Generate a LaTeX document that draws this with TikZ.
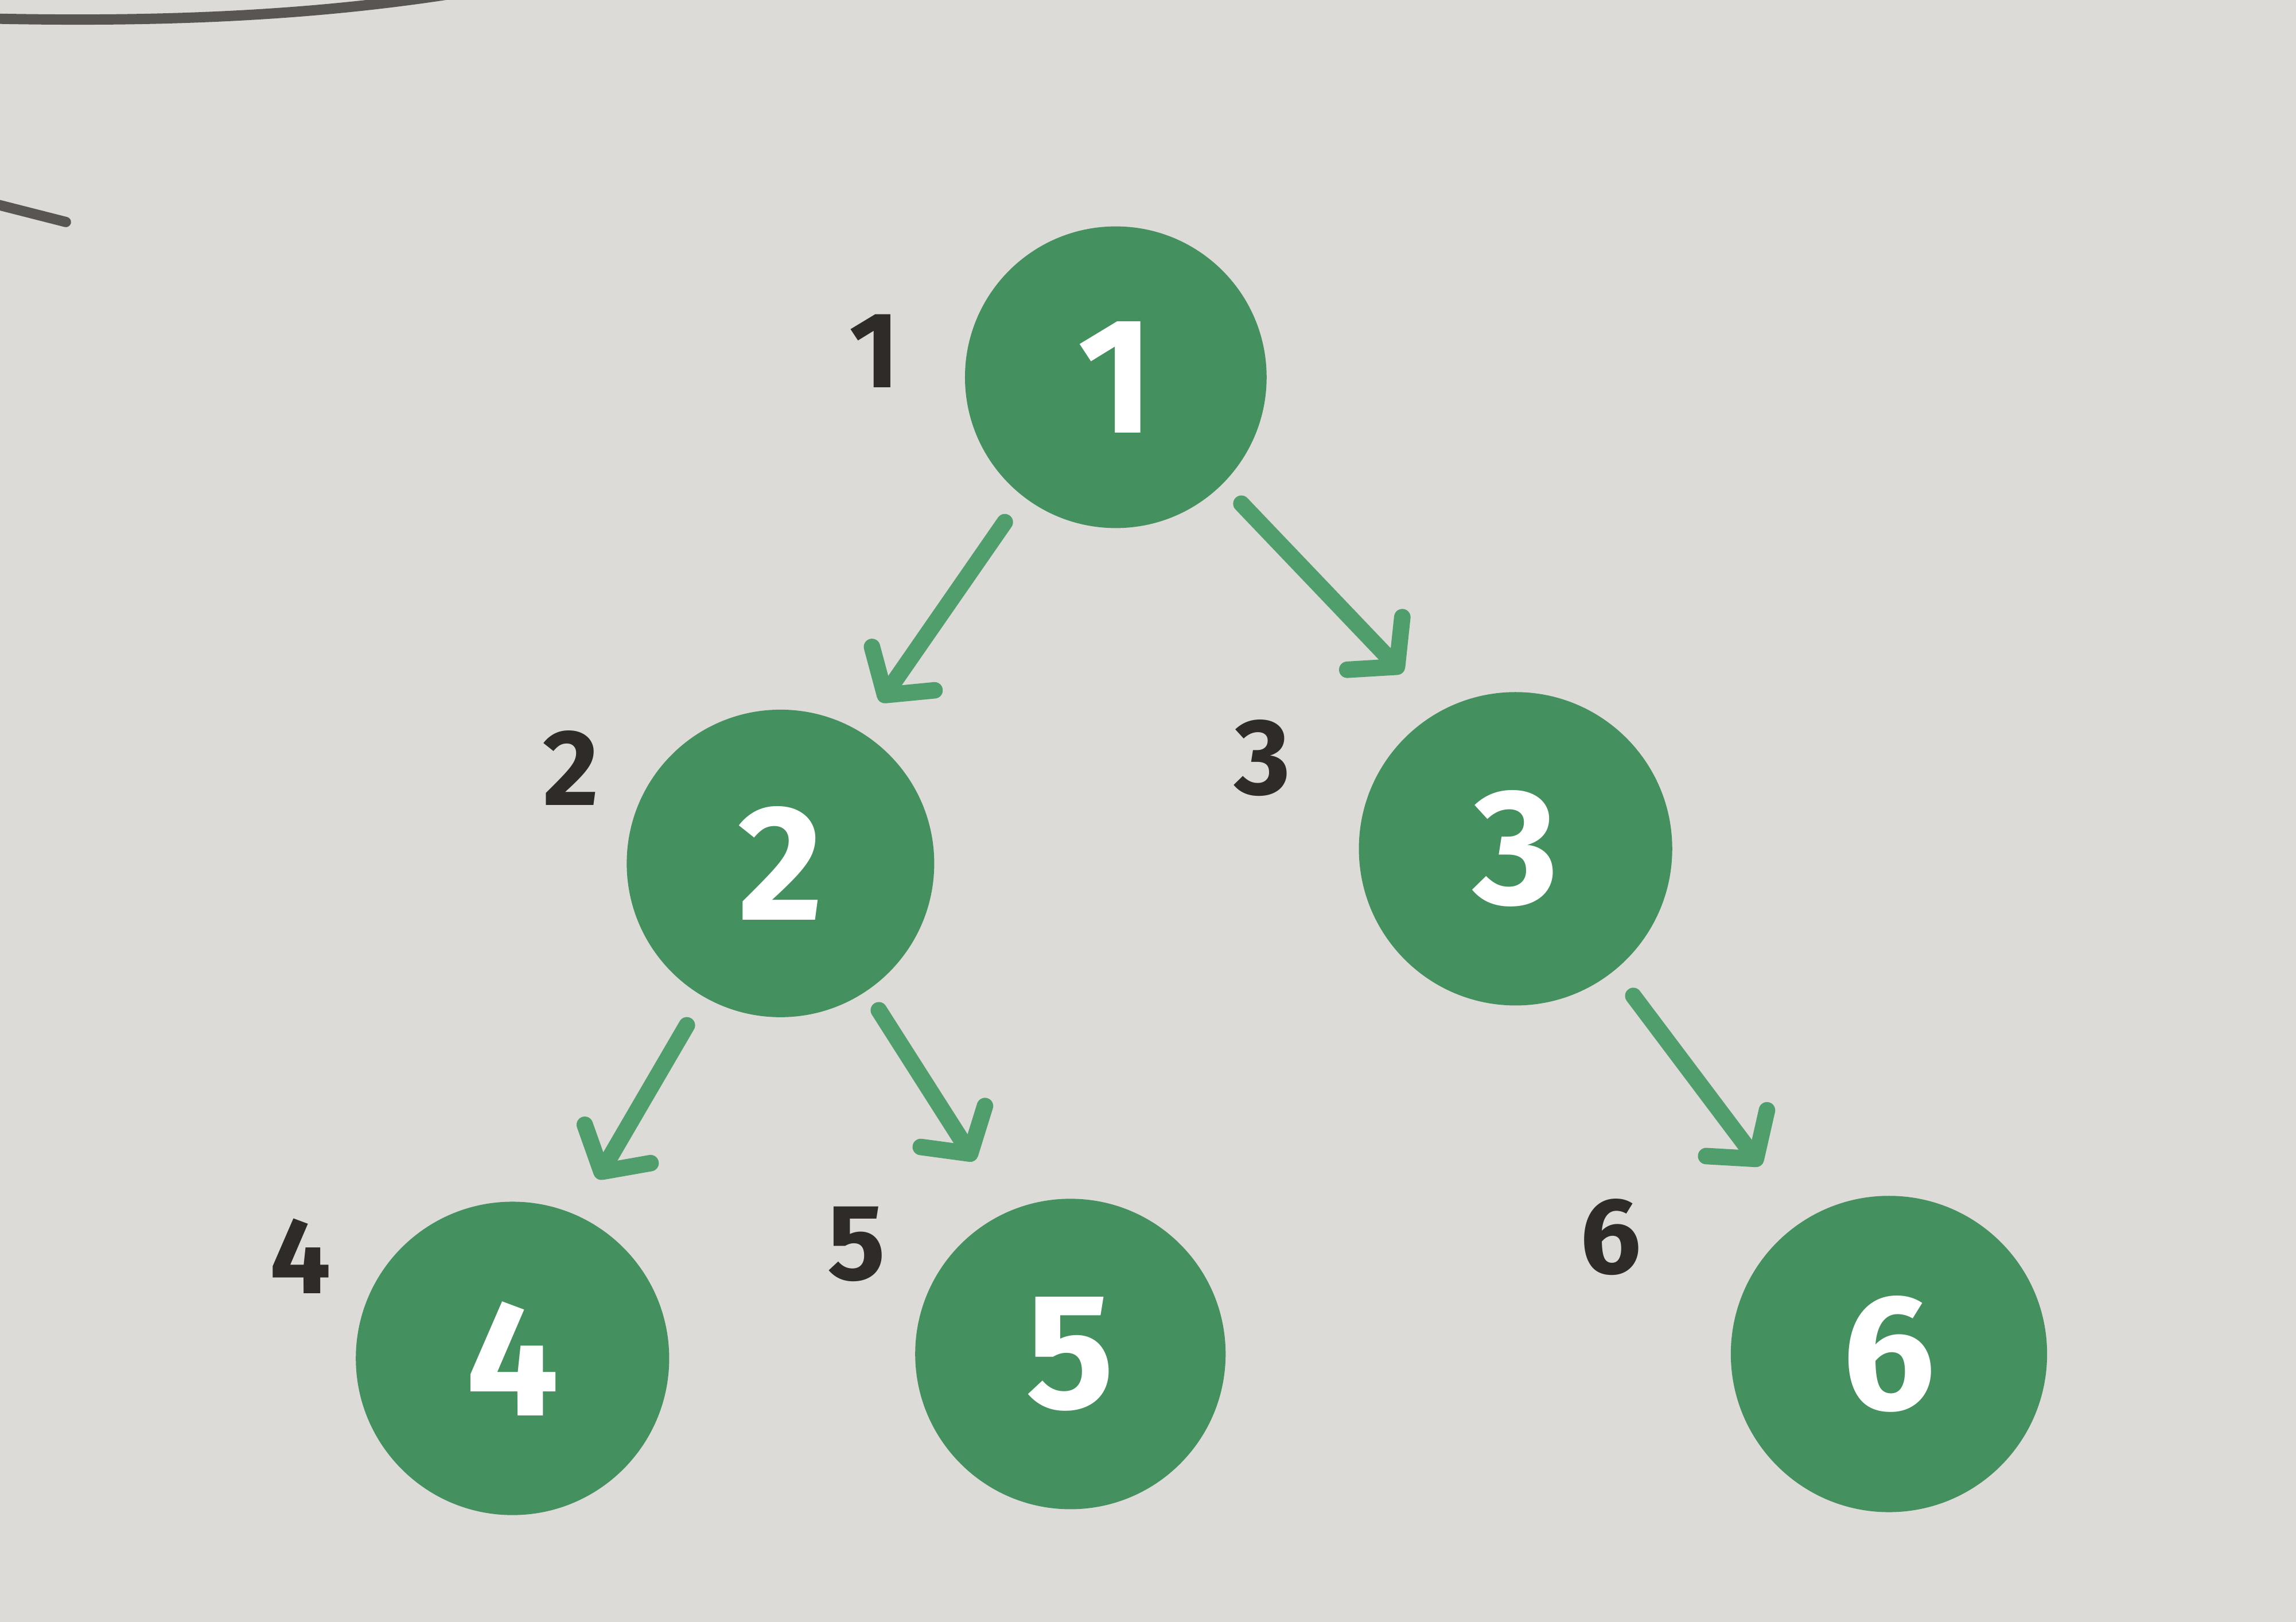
\documentclass[tikz,border=0pt]{standalone}
\usepackage{fontspec}
\setmainfont{Fira Sans}
\usetikzlibrary{arrows.meta}
\definecolor{paper}{HTML}{DCDBD8}
\definecolor{nodegreen}{HTML}{45905F}
\definecolor{arrowgreen}{HTML}{4F9E6B}
\definecolor{ink}{HTML}{2E2B28}
\tikzset{
  treenode/.style={circle, fill=nodegreen, inner sep=0pt, text=white,
    font=\fontsize{32}{36}\selectfont\bfseries},
  idxlabel/.style={text=ink, inner sep=0pt, font=\fontsize{21}{24}\selectfont\bfseries},
  edge/.style={draw=arrowgreen, line width=3.2pt, line cap=round,
    -{Straight Barb[length=0.22cm, width=0.52cm, line width=3.2pt, round]}},
  pencil/.style={draw=ink!80, line width=2pt, line cap=round}
}
\begin{document}
\begin{tikzpicture}
\fill[paper] (0,0) rectangle (15.68,11.076);
\useasboundingbox (0,0) rectangle (15.68,11.076);
% pencil marks
\draw[pencil] (-0.1,10.95) .. controls (1.2,10.92) and (2.2,10.98) .. (3.1,11.12);
\draw[pencil] (-0.1,9.70) -- (0.45,9.56);
% nodes
\node[treenode, minimum size=2.06cm] (n1) at (7.62,8.50) {1};
\node[treenode, minimum size=2.10cm] (n2) at (5.33,5.18) {2};
\node[treenode, minimum size=2.14cm] (n3) at (10.35,5.28) {3};
\node[treenode, minimum size=2.14cm] (n4) at (3.50,1.80) {4};
\node[treenode, minimum size=2.12cm] (n5) at (7.31,1.83) {5};
\node[treenode, minimum size=2.16cm] (n6) at (12.90,1.83) {6};
% index labels
\node[idxlabel] (l1) at (5.97,8.68) {1};
\node[idxlabel] (l2) at (3.90,5.83) {2};
\node[idxlabel] (l3) at (8.62,5.90) {3};
\node[idxlabel] (l4) at (2.05,2.50) {4};
\node[idxlabel] (l5) at (5.85,2.58) {5};
\node[idxlabel] (l6) at (11.00,2.63) {6};
% edges
\draw[edge, shorten <=0.21cm, shorten >=0.24cm] (n1.-128) -- (n2.59);
\draw[edge, shorten <=0.18cm, shorten >=0.36cm] (n1.-45) -- (n3.119);
\draw[edge, shorten <=0.22cm, shorten >=0.28cm] (n2.-120) -- (n4.66);
\draw[edge, shorten <=0.15cm, shorten >=0.41cm] (n2.-56) -- (n5.114);
\draw[edge, shorten <=0.21cm, shorten >=0.47cm] (n3.-51) -- (n6.123);
\end{tikzpicture}
\end{document}
